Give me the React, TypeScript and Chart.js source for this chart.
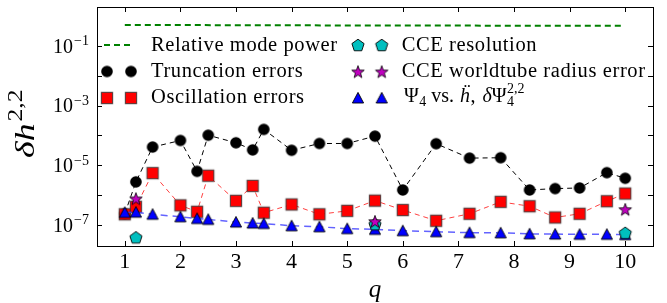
import React, { useEffect, useRef } from "react";
import { Chart, registerables } from "chart.js";

Chart.register(...registerables);

// ---- data ----
const qValues = [1, 1.2, 1.5, 2, 2.3, 2.5, 3, 3.3, 3.5, 4, 4.5, 5, 5.5, 6, 6.6, 7.2, 7.76, 8.28, 8.74, 9.18, 9.67, 10];
const modePowerQ = [1, 2, 3, 4, 5, 6, 7, 8, 9, 9.96];
const modePower = [0.5, 0.5, 0.49, 0.49, 0.48, 0.48, 0.48, 0.47, 0.47, 0.47];
const truncationErrors = [2.4e-7, 2.8e-6, 4.1e-5, 6.8e-5, 6.3e-6, 1.02e-4, 5.7e-5, 3.3e-5, 1.6e-4, 3.2e-5, 5.4e-5, 5.4e-5, 9.5e-5, 1.5e-6, 5.3e-5, 1.75e-5, 1.8e-5, 1.5e-6, 1.67e-6, 1.75e-6, 5.7e-6, 3.7e-6];
const oscillationErrors = [2.3e-7, 4.1e-7, 5.5e-6, 4.6e-7, 2.8e-7, 4.5e-6, 6.5e-7, 2.05e-6, 2.6e-7, 4.9e-7, 2.3e-7, 3.0e-7, 6.6e-7, 3.2e-7, 1.4e-7, 2.4e-7, 6.0e-7, 4.3e-7, 1.8e-7, 2.4e-7, 6.3e-7, 1.14e-6];
const psi4Errors = [2.65e-7, 2.7e-7, 2.3e-7, 1.9e-7, 1.66e-7, 1.55e-7, 1.26e-7, 1.17e-7, 1.13e-7, 9.5e-8, 8.8e-8, 7.6e-8, 7.2e-8, 6.5e-8, 6.0e-8, 5.6e-8, 5.5e-8, 5.1e-8, 5.0e-8, 4.9e-8, 4.9e-8, 4.8e-8];
const cceQ = [1.2, 5.5, 10];
const cceResolution = [3.9e-8, 1.07e-7, 5.5e-8];
const worldtubeErrors = [7.8e-7, 1.35e-7, 3.4e-7];

const xTicks = [1, 2, 3, 4, 5, 6, 7, 8, 9, 10];
const yTickExponents = [-7, -6, -5, -4, -3, -2, -1];
const yLabelExponents = [-7, -5, -3, -1];

const legendCol1 = ["Relative mode power", "Truncation errors", "Oscillation errors"];
const legendCol2 = ["CCE resolution", "CCE worldtube radius error"];

const FONT = '"Liberation Serif", "DejaVu Serif", serif';

type Kind = "circle" | "square" | "triangle" | "pentagon" | "star";

function makeMarker(kind: Kind): HTMLCanvasElement {
  const S = 18;
  const c = document.createElement("canvas");
  c.width = S;
  c.height = S;
  const ctx = c.getContext("2d")!;
  ctx.translate(S / 2, S / 2);
  ctx.beginPath();
  if (kind === "circle") {
    ctx.arc(0, 0, 5.8, 0, Math.PI * 2);
    ctx.fillStyle = "#000";
    ctx.fill();
    return c;
  }
  if (kind === "square") {
    ctx.rect(-5.6, -5.6, 11.2, 11.2);
    ctx.fillStyle = "#ff0000";
    ctx.fill();
    ctx.strokeStyle = "rgba(40,40,40,0.7)";
    ctx.lineWidth = 1.2;
    ctx.stroke();
    return c;
  }
  if (kind === "triangle") {
    ctx.moveTo(0, -5.6);
    ctx.lineTo(5.6, 5);
    ctx.lineTo(-5.6, 5);
    ctx.closePath();
    ctx.fillStyle = "#0000ff";
    ctx.fill();
    ctx.strokeStyle = "#000";
    ctx.lineWidth = 0.9;
    ctx.stroke();
    return c;
  }
  if (kind === "pentagon") {
    for (let k = 0; k < 5; k++) {
      const a = -Math.PI / 2 + (k * 2 * Math.PI) / 5;
      const px = 6.4 * Math.cos(a);
      const py = 6.4 * Math.sin(a) + 0.6;
      if (k === 0) ctx.moveTo(px, py);
      else ctx.lineTo(px, py);
    }
    ctx.closePath();
    ctx.fillStyle = "#00bfbf";
    ctx.fill();
    ctx.strokeStyle = "#000";
    ctx.lineWidth = 0.9;
    ctx.stroke();
    return c;
  }
  // star
  for (let k = 0; k < 10; k++) {
    const a = -Math.PI / 2 + (k * Math.PI) / 5;
    const r = k % 2 === 0 ? 6.6 : 2.7;
    const px = r * Math.cos(a);
    const py = r * Math.sin(a) + 0.8;
    if (k === 0) ctx.moveTo(px, py);
    else ctx.lineTo(px, py);
  }
  ctx.closePath();
  ctx.fillStyle = "#bf00bf";
  ctx.fill();
  ctx.strokeStyle = "#000";
  ctx.lineWidth = 0.8;
  ctx.stroke();
  return c;
}

type Part = { t: string; size: number; italic?: boolean; dy?: number; dx?: number; noAdvance?: boolean };

function drawParts(ctx: CanvasRenderingContext2D, x: number, y: number, parts: Part[]): number {
  let cx = x;
  for (const p of parts) {
    ctx.font = `${p.italic ? "italic " : ""}${p.size}px ${FONT}`;
    cx += p.dx || 0;
    ctx.fillText(p.t, cx, y + (p.dy || 0));
    if (!p.noAdvance) cx += ctx.measureText(p.t).width;
  }
  return cx;
}

function measureParts(ctx: CanvasRenderingContext2D, parts: Part[]): number {
  let w = 0;
  for (const p of parts) {
    ctx.font = `${p.italic ? "italic " : ""}${p.size}px ${FONT}`;
    w += p.dx || 0;
    if (!p.noAdvance) w += ctx.measureText(p.t).width;
  }
  return w;
}

export default function App() {
  const ref = useRef<HTMLCanvasElement | null>(null);

  useEffect(() => {
    const canvas = ref.current;
    if (!canvas) return;
    const m = {
      circle: makeMarker("circle"),
      square: makeMarker("square"),
      triangle: makeMarker("triangle"),
      pentagon: makeMarker("pentagon"),
      star: makeMarker("star"),
    };

    const decor = {
      id: "decor",
      afterDraw(chart: any) {
        const ctx: CanvasRenderingContext2D = chart.ctx;
        const { left, right, top, bottom } = chart.chartArea;
        const xs = chart.scales.x;
        const ys = chart.scales.y;
        ctx.save();
        // frame
        ctx.strokeStyle = "#000";
        ctx.lineWidth = 1;
        ctx.strokeRect(Math.round(left) + 0.5, Math.round(top) + 0.5, Math.round(right - left), Math.round(bottom - top));
        // ticks (inward, all four sides)
        ctx.beginPath();
        const TL = 5;
        for (const t of xTicks) {
          const px = Math.round(xs.getPixelForValue(t)) + 0.5;
          ctx.moveTo(px, bottom);
          ctx.lineTo(px, bottom - TL);
          ctx.moveTo(px, top);
          ctx.lineTo(px, top + TL);
        }
        for (const e of yTickExponents) {
          const py = Math.round(ys.getPixelForValue(Math.pow(10, e))) + 0.5;
          ctx.moveTo(left, py);
          ctx.lineTo(left + TL, py);
          ctx.moveTo(right, py);
          ctx.lineTo(right - TL, py);
        }
        ctx.stroke();

        ctx.fillStyle = "#000";
        ctx.textBaseline = "alphabetic";
        // x tick labels
        ctx.font = `22px ${FONT}`;
        ctx.textAlign = "center";
        for (const t of xTicks) {
          ctx.fillText(String(t), xs.getPixelForValue(t), 268);
        }
        ctx.textAlign = "left";
        // y tick labels
        for (const e of yLabelExponents) {
          const py = ys.getPixelForValue(Math.pow(10, e));
          const parts: Part[] = [
            { t: "10", size: 20 },
            { t: "\u2212" + Math.abs(e), size: 14, dy: -7.4, dx: 1 },
          ];
          const w = measureParts(ctx, parts);
          drawParts(ctx, 89 - w, py + 6.7, parts);
        }
        // x label
        ctx.font = `italic 25px ${FONT}`;
        ctx.textAlign = "center";
        ctx.fillText("q", (left + right) / 2, 296.5);
        ctx.textAlign = "left";
        // y label
        ctx.save();
        ctx.translate(34, 158);
        ctx.rotate(-Math.PI / 2);
        ctx.scale(1.28, 1);
        drawParts(ctx, 0, 0, [
          { t: "\u03b4h", size: 28, italic: true },
          { t: "2,2", size: 20, dy: -12, dx: 1.5 },
        ]);
        ctx.restore();

        // legend
        const rowsY = [45, 71.5, 98];
        const baseY = [50.7, 76.7, 102.7];
        const c1m = [107, 131];
        const c2m = [358, 381.7];
        ctx.save();
        ctx.strokeStyle = "#008000";
        ctx.lineWidth = 2;
        ctx.setLineDash([6, 4]);
        ctx.beginPath();
        ctx.moveTo(104, rowsY[0]);
        ctx.lineTo(133, rowsY[0]);
        ctx.stroke();
        ctx.restore();
        const img = (c: HTMLCanvasElement, x: number, y: number) => ctx.drawImage(c, x - c.width / 2, y - c.height / 2);
        for (const x of c1m) {
          img(m.circle, x, rowsY[1]);
          img(m.square, x, rowsY[2]);
        }
        for (const x of c2m) {
          img(m.pentagon, x, rowsY[0]);
          img(m.star, x, rowsY[1]);
          img(m.triangle, x, rowsY[2]);
        }
        ctx.font = `20.5px ${FONT}`;
        (ctx as any).letterSpacing = "0.6px";
        legendCol1.forEach((s, i) => ctx.fillText(s, 151, baseY[i]));
        legendCol2.forEach((s, i) => ctx.fillText(s, 401.7, baseY[i]));
        (ctx as any).letterSpacing = "0px";
        // Psi4 entry
        const by = 101.5;
        const cx = drawParts(ctx, 404, by, [
          { t: "\u03a8", size: 20 },
          { t: "4", size: 14, dy: 4, dx: 0.5 },
          { t: "vs.", size: 20, dx: 5 },
          { t: "\u1e27", size: 20, italic: true, dx: 6 },
          { t: ",", size: 20, dx: 0.5 },
          { t: "\u03b4", size: 20, italic: true, dx: 7 },
          { t: "\u03a8", size: 20 },
        ]);
        drawParts(ctx, cx + 0.5, by, [
          { t: "2,2", size: 14, dy: -9, noAdvance: true },
          { t: "4", size: 14, dy: 4 },
        ]);
        ctx.restore();
      },
    };

    const pts = (xs: number[], ys: number[]) => xs.map((x, i) => ({ x, y: ys[i] }));

    const chart = new Chart(canvas, {
      type: "line",
      data: {
        datasets: [
          {
            label: "CCE worldtube radius error",
            data: pts(cceQ, worldtubeErrors),
            showLine: false,
            pointStyle: m.star as any,
            pointRadius: 5,
            order: 0,
          },
          {
            label: "CCE resolution",
            data: pts(cceQ, cceResolution),
            showLine: false,
            pointStyle: m.pentagon as any,
            pointRadius: 5,
            order: 1,
          },
          {
            label: "Psi4 vs hddot",
            data: pts(qValues, psi4Errors),
            borderColor: "rgba(60,60,255,0.8)",
            borderWidth: 1.5,
            borderDash: [7, 5],
            pointStyle: m.triangle as any,
            pointRadius: 5,
            order: 2,
          },
          {
            label: "Oscillation errors",
            data: pts(qValues, oscillationErrors),
            borderColor: "rgba(255,0,0,0.75)",
            borderWidth: 1,
            borderDash: [5, 4],
            pointStyle: m.square as any,
            pointRadius: 5,
            order: 3,
          },
          {
            label: "Truncation errors",
            data: pts(qValues, truncationErrors),
            borderColor: "#000",
            borderWidth: 1,
            borderDash: [5, 4],
            pointStyle: m.circle as any,
            pointRadius: 5,
            order: 4,
          },
          {
            label: "Relative mode power",
            data: pts(modePowerQ, modePower),
            borderColor: "#008000",
            borderWidth: 2,
            borderDash: [6, 4],
            pointRadius: 0,
            order: 5,
          },
        ],
      },
      options: {
        animation: false,
        responsive: false,
        devicePixelRatio: 1,
        layout: { padding: { left: 97, right: 14, top: 7, bottom: 57 } },
        plugins: { legend: { display: false }, tooltip: { enabled: false } },
        elements: { line: { tension: 0 } },
        scales: {
          x: { type: "linear", min: 0.5, max: 10.5, display: false },
          y: { type: "logarithmic", min: 2e-8, max: 2, display: false },
        },
      },
      plugins: [decor],
    });
    return () => chart.destroy();
  }, []);

  return (
    <div style={{ position: "absolute", left: 0, top: 0, width: 667, height: 303, background: "#fff" }}>
      <canvas ref={ref} width={667} height={303} style={{ display: "block" }} />
    </div>
  );
}
